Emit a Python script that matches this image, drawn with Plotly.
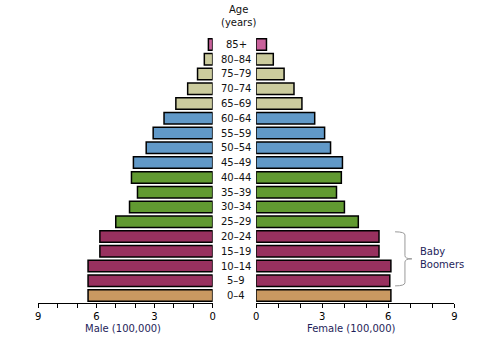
import plotly.graph_objects as go

# ---- data (bottom to top) ----
age_groups = ["0–4", "5–9", "10–14", "15–19", "20–24", "25–29", "30–34", "35–39",
              "40–44", "45–49", "50–54", "55–59", "60–64", "65–69", "70–74",
              "75–79", "80–84", "85+"]
male = [6.43, 6.43, 6.43, 5.82, 5.82, 5.00, 4.29, 3.88, 4.19, 4.09,
        3.43, 3.07, 2.51, 1.90, 1.29, 0.78, 0.43, 0.22]
female = [6.12, 6.07, 6.12, 5.58, 5.58, 4.64, 4.01, 3.65, 3.87, 3.92,
          3.38, 3.11, 2.66, 2.08, 1.72, 1.27, 0.78, 0.47]
tick_values = [0, 1, 2, 3, 4, 5, 6, 7, 8, 9]
tick_labels = ["0", "", "", "3", "", "", "6", "", "", "9"]
bracket_label = "Baby<br>Boomers"

# ---- styles ----
TAN, MAROON, GREEN, BLUE, KHAKI, PINK = "#c99961", "#98315f", "#619a31", "#6199c8", "#cccc9e", "#c9619b"
bar_colors = [TAN] + [MAROON] * 4 + [GREEN] * 4 + [BLUE] * 4 + [KHAKI] * 4 + [PINK]
FONT = "DejaVu Sans, Verdana, sans-serif"
NAVY = "#1e1e5a"

W, H = 483, 344
top, bottom = 37.4, 303.1
ypos = list(range(len(age_groups)))

fig = go.Figure()
fig.add_trace(go.Bar(y=ypos, x=male, orientation="h", xaxis="x", yaxis="y",
                     marker=dict(color=bar_colors, line=dict(color="black", width=1.5)),
                     width=0.78, showlegend=False, hoverinfo="skip"))
fig.add_trace(go.Bar(y=ypos, x=female, orientation="h", xaxis="x2", yaxis="y2",
                     marker=dict(color=bar_colors, line=dict(color="black", width=1.5)),
                     width=0.78, showlegend=False, hoverinfo="skip"))

axis_common = dict(tickvals=tick_values, ticktext=tick_labels, ticks="outside", ticklen=4,
                   tickcolor="black", tickwidth=1, showline=True, linecolor="black",
                   linewidth=1, showgrid=False, zeroline=False,
                   tickfont=dict(family=FONT, size=10, color="black"), fixedrange=True)

fig.update_layout(
    width=W, height=H, margin=dict(l=0, r=0, t=top, b=H - bottom),
    paper_bgcolor="white", plot_bgcolor="white",
    xaxis=dict(domain=[35.7 / W, 212.3 / W], range=[9, 0], anchor="y", **axis_common),
    xaxis2=dict(domain=[256.3 / W, 457 / W], range=[0, 9], anchor="y2", **axis_common),
    yaxis=dict(range=[-0.5, 17.5], domain=[0, 1], anchor="x", visible=False, fixedrange=True),
    yaxis2=dict(range=[-0.5, 17.5], domain=[0, 1], anchor="x2", visible=False, fixedrange=True),
    font=dict(family=FONT, size=10, color="black"),
)

ph = bottom - top
def py(pix):
    return (bottom - pix) / ph

ann = []
for i, lab in enumerate(age_groups):
    ann.append(dict(x=236 / W, xref="paper", y=i, yref="y", text=lab, showarrow=False,
                    xanchor="center", yanchor="middle",
                    font=dict(family=FONT, size=10, color="#111111")))
ann.append(dict(x=238 / W, xref="paper", y=py(16), yref="paper", text="Age<br>(years)",
                showarrow=False, xanchor="center", yanchor="middle",
                font=dict(family=FONT, size=10, color="#111111")))
ann.append(dict(x=121.5 / W, xref="paper", y=py(329), yref="paper", text="Male (100,000)",
                showarrow=False, xanchor="center", yanchor="middle",
                font=dict(family=FONT, size=10, color=NAVY)))
ann.append(dict(x=353.3 / W, xref="paper", y=py(329), yref="paper", text="Female (100,000)",
                showarrow=False, xanchor="center", yanchor="middle",
                font=dict(family=FONT, size=10, color=NAVY)))
ann.append(dict(x=420 / W, xref="paper", y=py(258), yref="paper", text=bracket_label,
                showarrow=False, xanchor="left", yanchor="middle", align="left",
                font=dict(family=FONT, size=10, color=NAVY)))
fig.update_layout(annotations=ann)

# bracket
x0, x1, x2 = 397 / W, 407 / W, 414 / W
yt, ym, yb = py(232), py(259), py(286)
r = 0.012
path = (f"M {x0},{yt} Q {x1},{yt} {x1},{yt - r} L {x1},{ym + r} Q {x1},{ym} {x2},{ym} "
        f"Q {x1},{ym} {x1},{ym - r} L {x1},{yb + r} Q {x1},{yb} {x0},{yb}")
fig.add_shape(type="path", path=path, xref="paper", yref="paper",
              line=dict(color="#999999", width=1))

fig.write_html("out.html")
